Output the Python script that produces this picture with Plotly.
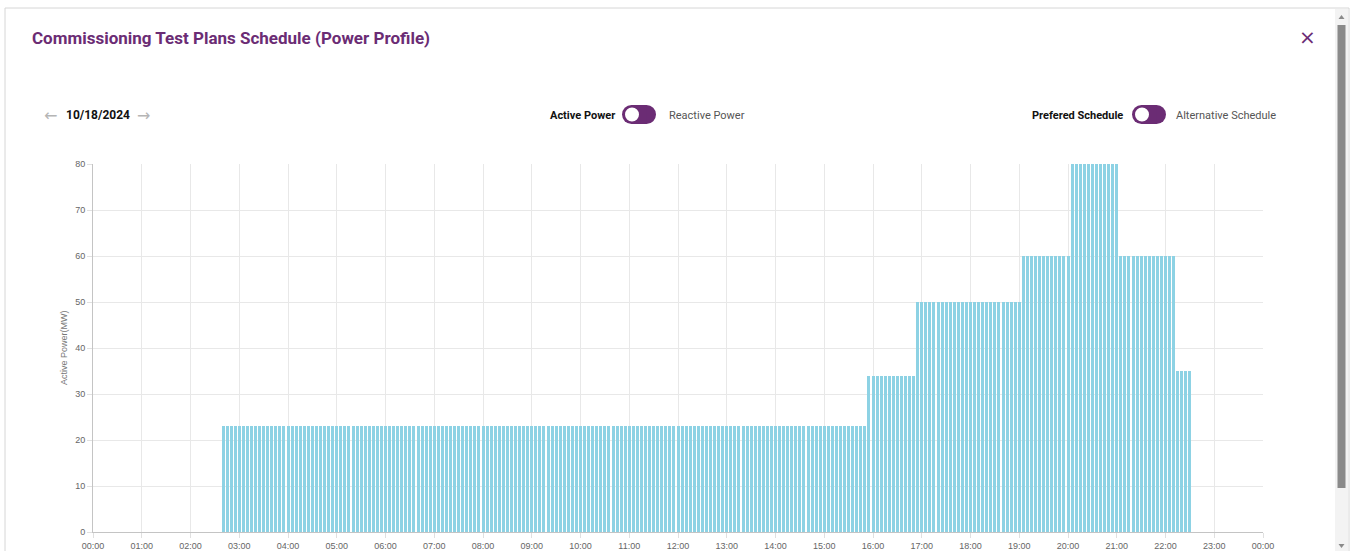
import plotly.graph_objects as go
from datetime import datetime, timedelta

# ---------------- data ----------------
DAY = "2024-10-18"
STEP_MINUTES = 5
seg_start = ["02:40", "15:55", "16:55", "19:05", "20:05", "21:05", "22:15"]
seg_end = ["15:50", "16:50", "19:00", "20:00", "21:00", "22:10", "22:30"]
seg_value = [23, 34, 50, 60, 80, 60, 35]

x_tick_labels = ["00:00", "01:00", "02:00", "03:00", "04:00", "05:00", "06:00",
                 "07:00", "08:00", "09:00", "10:00", "11:00", "12:00", "13:00",
                 "14:00", "15:00", "16:00", "17:00", "18:00", "19:00", "20:00",
                 "21:00", "22:00", "23:00", "00:00"]
y_ticks = [0, 10, 20, 30, 40, 50, 60, 70, 80]

# ---------------- build bar series from the schedule segments ----------------
day0 = datetime.strptime(DAY, "%Y-%m-%d")
bar_x, bar_y = [], []
for s, e, v in zip(seg_start, seg_end, seg_value):
    t = datetime.strptime(DAY + " " + s, "%Y-%m-%d %H:%M")
    te = datetime.strptime(DAY + " " + e, "%Y-%m-%d %H:%M")
    while t <= te:
        bar_x.append(t.strftime("%Y-%m-%d %H:%M:%S"))
        bar_y.append(v)
        t += timedelta(minutes=STEP_MINUTES)

tick_vals = [(day0 + timedelta(hours=i)).strftime("%Y-%m-%d %H:%M:%S")
             for i in range(len(x_tick_labels))]

# ---------------- pixel helpers (plot area 93..1263 x 164..532) ----------------
W, H = 1351, 551
PL, PR, PT, PB = 93, 1263, 164, 532


def px(x):
    return (x - PL) / (PR - PL)


def py(y):
    return (PB - y) / (PB - PT)


PURPLE = "#6b2c74"

fig = go.Figure()
fig.add_trace(go.Bar(
    x=bar_x, y=bar_y,
    width=STEP_MINUTES * 60 * 1000 * 0.74,
    marker=dict(color="rgba(140,209,228,0.99)", line=dict(width=0)),
    hoverinfo="x+y",
))

shapes = []
# card border
shapes.append(dict(type="rect", xref="paper", yref="paper",
                   x0=px(5), x1=px(1349), y0=py(8), y1=py(570),
                   line=dict(color="#d6d6d6", width=1), fillcolor="rgba(0,0,0,0)",
                   layer="below"))
# scrollbar track and thumb
shapes.append(dict(type="rect", xref="paper", yref="paper",
                   x0=px(1335), x1=px(1348), y0=py(9), y1=py(551),
                   line=dict(width=0), fillcolor="#f3f3f3", layer="below"))
shapes.append(dict(type="rect", xref="paper", yref="paper",
                   x0=px(1337.5), x1=px(1345.5), y0=py(25), y1=py(488),
                   line=dict(width=0), fillcolor="#8a8a8a", layer="below"))
# scrollbar arrows
shapes.append(dict(type="path", xref="paper", yref="paper",
                   path=f"M {px(1338.5)},{py(19)} L {px(1344.5)},{py(19)} L {px(1341.5)},{py(15)} Z",
                   line=dict(width=0), fillcolor="#8a8a8a"))
shapes.append(dict(type="path", xref="paper", yref="paper",
                   path=f"M {px(1338.5)},{py(544)} L {px(1344.5)},{py(544)} L {px(1341.5)},{py(548)} Z",
                   line=dict(width=0), fillcolor="#8a8a8a"))


def toggle(x_left):
    h = 19
    top = 105
    r = h / 2
    w = 34
    out = []
    out.append(dict(type="circle", xref="paper", yref="paper",
                    x0=px(x_left), x1=px(x_left + h), y0=py(top), y1=py(top + h),
                    line=dict(width=0), fillcolor=PURPLE))
    out.append(dict(type="circle", xref="paper", yref="paper",
                    x0=px(x_left + w - h), x1=px(x_left + w), y0=py(top), y1=py(top + h),
                    line=dict(width=0), fillcolor=PURPLE))
    out.append(dict(type="rect", xref="paper", yref="paper",
                    x0=px(x_left + r), x1=px(x_left + w - r), y0=py(top), y1=py(top + h),
                    line=dict(width=0), fillcolor=PURPLE))
    kr = 7
    cx, cy = x_left + r + 0.5, top + r
    out.append(dict(type="circle", xref="paper", yref="paper",
                    x0=px(cx - kr), x1=px(cx + kr), y0=py(cy - kr), y1=py(cy + kr),
                    line=dict(width=0), fillcolor="white"))
    return out


shapes += toggle(622)
shapes += toggle(1132)

annotations = []


def text(x, y, s, size, color, weight="normal", anchor="left", family="Roboto", angle=0):
    annotations.append(dict(xref="paper", yref="paper", x=px(x), y=py(y), text=s,
                            showarrow=False, xanchor=anchor, yanchor="middle",
                            textangle=angle,
                            font=dict(family=family, size=size, color=color, weight=weight)))


text(30, 38, "Commissioning Test Plans Schedule (Power Profile)", 17, PURPLE, "bold")
text(1307, 37, "×", 20, PURPLE, anchor="center", family="DejaVu Sans")
text(50, 115, "←", 16, "#b5b5b5", anchor="center", family="DejaVu Sans")
text(64, 115, "10/18/2024", 12, "#111111", "bold")
text(143, 115, "→", 16, "#b5b5b5", anchor="center", family="DejaVu Sans")
text(617, 115, "Active Power", 11, "#111111", "bold", anchor="right")
text(667, 115, "Reactive Power", 11, "#555555")
text(1125, 115, "Prefered Schedule", 11, "#111111", "bold", anchor="right")
text(1174, 115, "Alternative Schedule", 11, "#555555")
text(64, 348, "Active Power(MW)", 9, "#777777", anchor="center",
     family="Liberation Sans", angle=-90)

fig.update_layout(
    width=W, height=H,
    margin=dict(l=PL, r=W - PR, t=PT, b=H - PB, autoexpand=False),
    paper_bgcolor="white", plot_bgcolor="white",
    showlegend=False,
    bargap=0,
    shapes=shapes,
    annotations=annotations,
    font=dict(family="Liberation Sans, Arial, sans-serif"),
)
fig.update_xaxes(
    type="date",
    range=[tick_vals[0], tick_vals[-1]],
    tickvals=tick_vals, ticktext=x_tick_labels,
    showgrid=True, gridcolor="#e8e8e8", gridwidth=1,
    showline=True, linecolor="#c4c4c4", linewidth=1,
    ticks="outside", ticklen=5, tickcolor="#e0e0e0",
    tickfont=dict(family="Liberation Sans, Arial", size=9, color="#666666"),
    automargin=False, zeroline=False,
)
fig.update_yaxes(
    range=[0, 80],
    tickvals=y_ticks,
    showgrid=True, gridcolor="#e8e8e8", gridwidth=1,
    showline=True, linecolor="#c4c4c4", linewidth=1,
    ticks="outside", ticklen=5, tickcolor="#e0e0e0",
    tickfont=dict(family="Liberation Sans, Arial", size=9, color="#666666"),
    automargin=False, zeroline=False,
)

fig.write_html("out.html", config={"displayModeBar": False},
               post_script="document.body.style.margin='0';document.body.style.overflow='hidden';")
